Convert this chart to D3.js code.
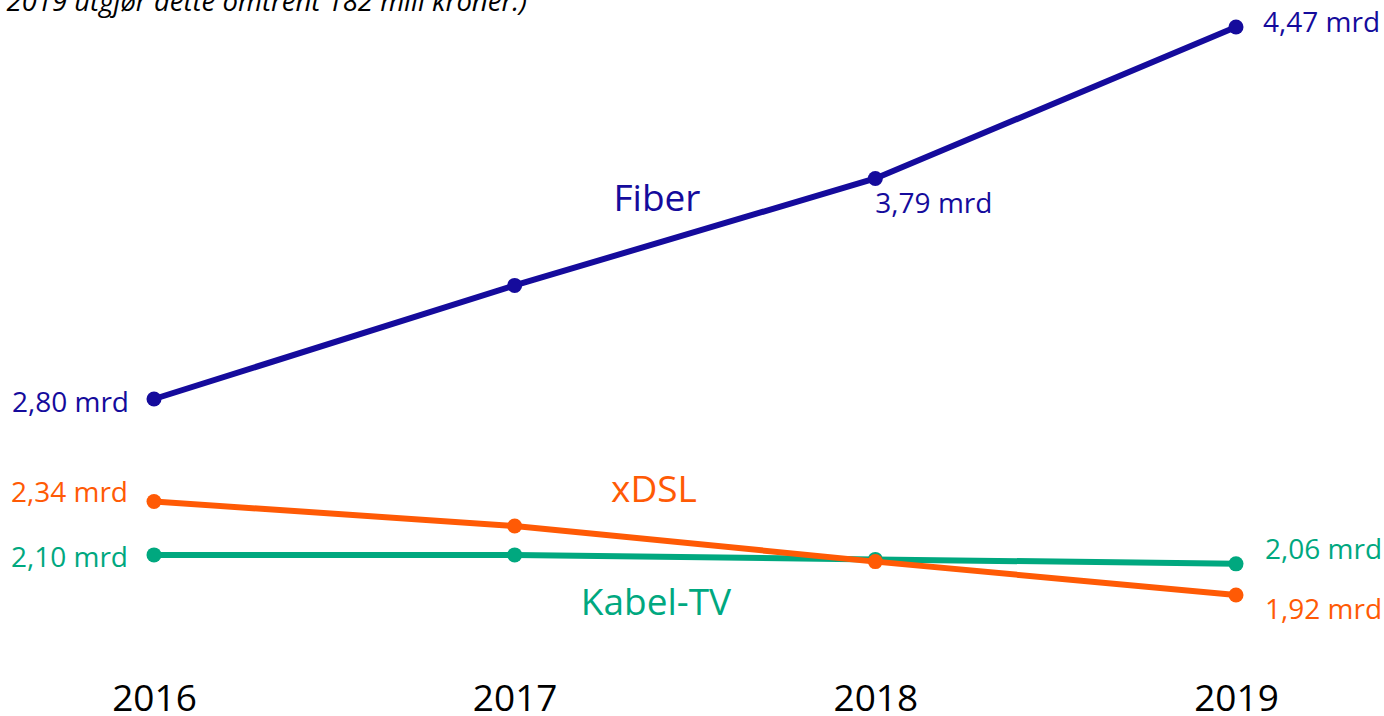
<!DOCTYPE html>
<html><head><meta charset="utf-8">
<script src="https://cdn.jsdelivr.net/npm/d3@7"></script>
<style>body{margin:0;background:#fff;overflow:hidden}</style>
</head><body>
<svg id="c" width="1384" height="716"></svg>
<script>
const years = ["2016","2017","2018","2019"];
const fiber = [2.80, 3.31, 3.79, 4.47];
const xdsl = [2.34, 2.23, 2.07, 1.92];
const kabel = [2.10, 2.10, 2.08, 2.06];
const seriesNames = ["Fiber","xDSL","Kabel-TV"];
const colors = ["#150B9C","#FF5A05","#00A87F"];
const note = "(I 2019 utgjør dette omtrent 182 mill kroner.)";

const svg = d3.select("#c");
const font = "'Open Sans', sans-serif";
const x = d3.scalePoint().domain(years).range([154,1236]);
const y = d3.scaleLinear().domain([2.80,4.47]).range([399,27]);

const series = [fiber, xdsl, kabel];
const line = d3.line().x((d,i)=>x(years[i])).y(d=>y(d));

[0,2,1].forEach(s=>{
  svg.append("path").attr("d", line(series[s])).attr("fill","none")
    .attr("stroke", colors[s]).attr("stroke-width",6);
  svg.selectAll(null).data(series[s]).enter().append("circle")
    .attr("cx",(d,i)=>x(years[i])).attr("cy",d=>y(d)).attr("r",7.5).attr("fill",colors[s]);
});

// x axis labels
const xAxis = d3.axisBottom(x).tickSize(0).tickPadding(0);
const g = svg.append("g").attr("transform","translate(0,711)").call(xAxis);
g.select(".domain").remove();
g.selectAll("text").attr("font-family",font).attr("font-size",37).attr("fill","#000")
  .attr("dy","0");

function fmt(v){ return v.toFixed(2).replace(".",",")+" mrd"; }
function lab(s,i,dx,dy,anchor){
  svg.append("text").attr("x",x(years[i])+dx).attr("y",y(series[s][i])+dy)
    .attr("text-anchor",anchor).attr("font-family",font).attr("font-size",28)
    .attr("fill",colors[s]).text(fmt(series[s][i]));
}
lab(0,0,-25,13,"end");
lab(0,3,27,5,"start");
lab(0,2,0,35,"start");
lab(1,0,-26,1,"end");
lab(1,3,29,24,"start");
lab(2,0,-26,12,"end");
lab(2,3,29,-5,"start");

const nameY = [211,502,615];
const nameX = [657,654,656];
seriesNames.forEach((n,s)=>{
  svg.append("text").attr("x",nameX[s]).attr("y",nameY[s]).attr("text-anchor","middle")
    .attr("font-family",font).attr("font-size",37).attr("fill",colors[s]).text(n);
});

svg.append("text").attr("x",527).attr("y",11).attr("text-anchor","end")
  .attr("font-family",font).attr("font-size",27.5).attr("font-style","italic")
  .attr("fill","#000").text(note);
</script>
</body></html>
